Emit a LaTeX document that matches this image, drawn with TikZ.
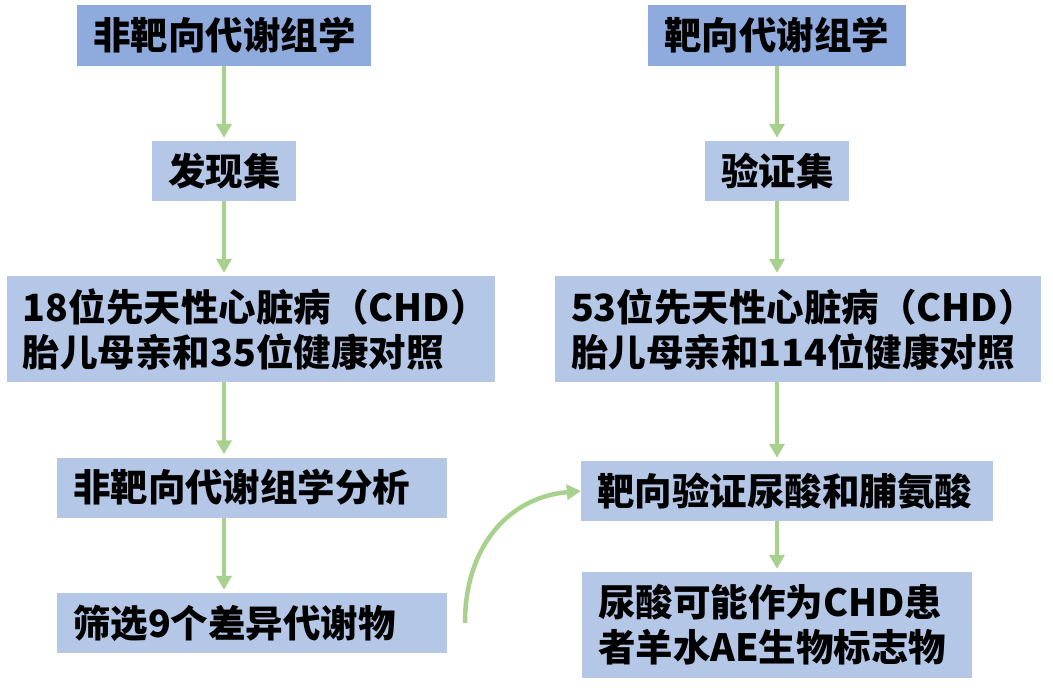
\documentclass[tikz,border=0pt]{standalone}
\usepackage{fontspec}
\newfontfamily\cjk{Noto Sans CJK SC}
\usepackage{xcolor}
\usepackage{tikz}
\usetikzlibrary{arrows.meta}
\definecolor{headblue}{HTML}{8FAADC}
\definecolor{boxblue}{HTML}{B4C7E7}
\definecolor{arrgreen}{HTML}{A9D18E}

\begin{document}
\begin{tikzpicture}[x=1pt, y=-1pt,
    box/.style={fill=boxblue, inner xsep=16pt, inner ysep=0pt, align=left,
      font=\cjk\bfseries\fontsize{37.5}{45}\selectfont},
    headbox/.style={box, fill=headblue},
    flow/.style={arrgreen, line width=4.5pt, -{Triangle[width=15pt,length=14pt]}, shorten >=3pt}]
  \useasboundingbox (0,0) rectangle (1053,693);
  % left column: untargeted
  \node[headbox, minimum width=294, minimum height=61, text width=262] (ua) at (224,35.5) {非靶向代谢组学};
  \node[box, minimum width=144, minimum height=60, text width=112] (disc) at (224,171) {发现集};
  \node[box, minimum width=488, minimum height=106, text width=456] (dcoh) at (251,329)
    {18位先天性心脏病（CHD）\\胎儿母亲和35位健康对照};
  \node[box, minimum width=390, minimum height=60, text width=358] (uan) at (252,487.5) {非靶向代谢组学分析};
  \node[box, minimum width=390, minimum height=60, text width=358] (scr) at (252,623) {筛选9个差异代谢物};
  % right column: targeted
  \node[headbox, minimum width=258, minimum height=61, text width=226] (ta) at (777,35.5) {靶向代谢组学};
  \node[box, minimum width=144, minimum height=60, text width=112] (vali) at (777,171) {验证集};
  \node[box, minimum width=486, minimum height=106, text width=454] (vcoh) at (798,329)
    {53位先天性心脏病（CHD）\\胎儿母亲和114位健康对照};
  \node[box, minimum width=412, minimum height=60, text width=380] (tval) at (787,491) {靶向验证尿酸和脯氨酸};
  \node[box, minimum width=390, minimum height=106, text width=358] (res) at (777,625)
    {尿酸可能作为CHD患\\者羊水AE生物标志物};
  % arrows
  \draw[flow] (ua) -- (disc);
  \draw[flow] (disc) -- (disc |- dcoh.north);
  \draw[flow] (dcoh.south -| disc) -- (uan.north -| disc);
  \draw[flow] (uan.south -| disc) -- (scr.north -| disc);
  \draw[flow] (ta) -- (vali);
  \draw[flow] (vali) -- (vali |- vcoh.north);
  \draw[flow] (vcoh.south -| vali) -- (tval.north -| vali);
  \draw[flow] (tval.south -| vali) -- (res.north -| vali);
  % bend over to the targeted check
  \coordinate (bend) at (465,623);
  \draw[flow, shorten >=0pt] (bend) .. controls (465,545) and (510,497) .. (tval.west);
\end{tikzpicture}
\end{document}
